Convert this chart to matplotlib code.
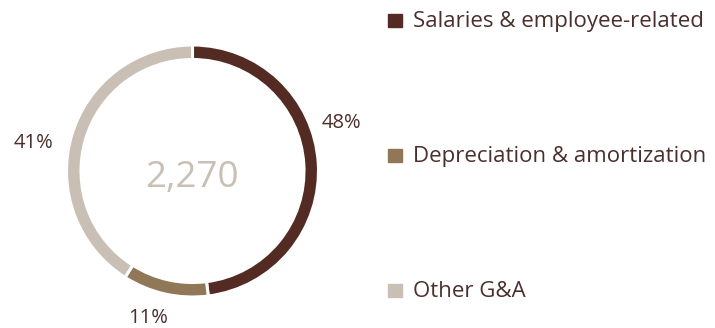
import matplotlib
matplotlib.use("Agg")
import matplotlib.pyplot as plt
from matplotlib.patches import Rectangle

categories = ["Salaries & employee-related", "Depreciation & amortization", "Other G&A"]
shares = [48, 11, 41]
total = "2,270"
colors = ["#532b23", "#8f7758", "#c9bfb4"]
TEXT = "#4a2f2c"

plt.rcParams["font.family"] = ["Open Sans", "DejaVu Sans"]

W, H = 715, 328
fig = plt.figure(figsize=(W / 100, H / 100), dpi=100)

# donut: centre (192.5, 171) px, radius 126 px
cx, cy, r = 192.5, 171, 126
ax = fig.add_axes([(cx - r) / W, (H - cy - r) / H, 2 * r / W, 2 * r / H])
ax.pie(shares, colors=colors, startangle=90, counterclock=False, radius=1,
       wedgeprops=dict(width=0.115, edgecolor="white", linewidth=2.2))
ax.set_xlim(-1, 1)
ax.set_ylim(-1, 1)
ax.set_aspect("equal")
ax.axis("off")

# total in the hole, digits sitting on a baseline just below centre
ax.text(0, -0.125, total, ha="center", va="baseline", fontsize=26.5, color=colors[2])

label_pos = [(1.18, 0.38), (-0.35, -1.17), (-1.26, 0.22)]
for s, (x, y) in zip(shares, label_pos):
    ax.text(x, y, f"{s}%", ha="center", va="center", fontsize=14.5, color=TEXT)

# legend on the right, drawn in pixel space
lg = fig.add_axes([0, 0, 1, 1])
lg.set_xlim(0, W)
lg.set_ylim(H, 0)
lg.axis("off")
baselines = [27, 162, 297]
for name, col, yb in zip(categories, colors, baselines):
    lg.add_patch(Rectangle((388, yb - 13), 14, 13, color=col))
    lg.text(413, yb, name, ha="left", va="baseline", fontsize=16, color=TEXT)

fig.savefig("out.png", dpi=100)
